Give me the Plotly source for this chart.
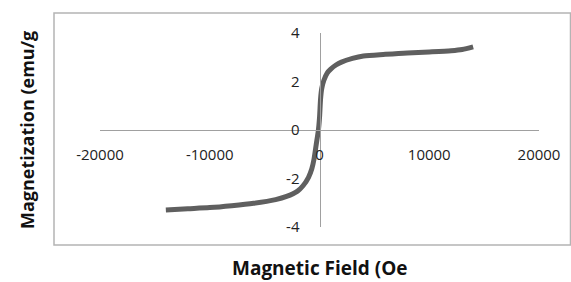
import plotly.graph_objects as go

# Data
field_oe = [-14000, -12000, -10000, -8000, -6000, -4000, -3000, -2000, -1500, -1000,
            -700, -500, -300, -100, 0, 100, 200, 400, 700, 1000, 1500, 2000, 3000,
            4000, 6000, 8000, 10000, 12000, 13000, 14000]
magnetization = [-3.3, -3.25, -3.2, -3.12, -3.02, -2.87, -2.74, -2.52, -2.3, -1.95,
                 -1.6, -1.2, -0.6, 0.0, 0.5, 1.3, 1.7, 2.05, 2.35, 2.5, 2.68, 2.8, 2.95,
                 3.05, 3.12, 3.18, 3.22, 3.27, 3.32, 3.43]
x_ticks = [-20000, -10000, 0, 10000, 20000]
y_ticks = [-4, -2, 0, 2, 4]

fig = go.Figure()
fig.add_trace(go.Scatter(
    x=field_oe, y=magnetization, mode="lines",
    line=dict(color="#5f5f5f", width=5, shape="spline", smoothing=0.8),
    hoverinfo="skip", showlegend=False,
))

W, H = 571, 282
L, R, T, B = 100, 32, 33, 55
pw, ph = W - L - R, H - T - B

fig.update_layout(
    width=W, height=H,
    margin=dict(l=L, r=R, t=T, b=B),
    paper_bgcolor="white", plot_bgcolor="white",
    font=dict(family="Open Sans", color="#222222"),
    xaxis=dict(
        range=[-20000, 20000], tickvals=x_ticks, ticktext=[str(v) for v in x_ticks],
        showgrid=False, zeroline=False, showline=True, linecolor="#a0a0a0", linewidth=1,
        anchor="free", position=0.5, ticks="", ticklabelstandoff=11,
        tickfont=dict(size=15, color="#222222"),
    ),
    yaxis=dict(
        range=[-4, 4], tickvals=y_ticks, ticktext=[str(v) for v in y_ticks],
        showgrid=False, zeroline=False, showline=True, linecolor="#a0a0a0", linewidth=1,
        anchor="free", position=0.5, ticks="", ticklabelstandoff=17,
        tickfont=dict(size=15, color="#222222"),
    ),
    shapes=[dict(
        type="rect", xref="paper", yref="paper",
        x0=(54 - L) / pw, x1=(570.5 - L) / pw,
        y0=(H - B - 245) / ph, y1=(H - B - 13) / ph,
        line=dict(color="#b4b4b4", width=1.5), layer="below",
    )],
    annotations=[
        dict(text="<b>Magnetization (emu/g</b>", xref="paper", yref="paper",
             x=(27 - L) / pw, y=(H - B - 130) / ph, textangle=-90, showarrow=False,
             font=dict(size=18, color="#111111"), xanchor="center", yanchor="middle"),
        dict(text="<b>Magnetic Field (Oe</b>", xref="paper", yref="paper",
             x=(320 - L) / pw, y=(H - B - 268) / ph, showarrow=False,
             font=dict(size=19, color="#111111"), xanchor="center", yanchor="middle"),
    ],
)

fig.write_html("out.html", config={"displayModeBar": False},
               post_script="document.body.style.margin='0';document.body.style.overflow='hidden';")
